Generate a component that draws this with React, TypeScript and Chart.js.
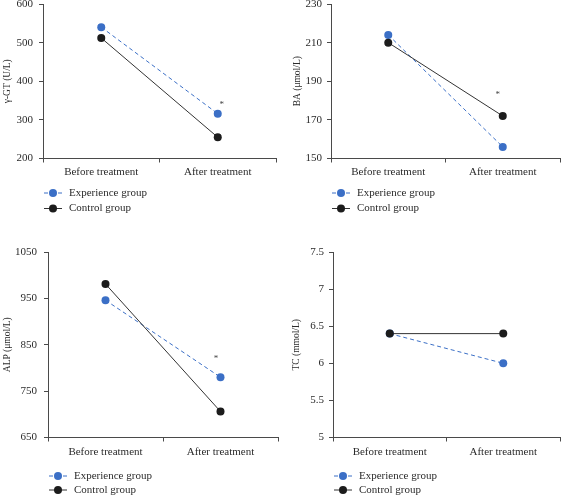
import React, { useEffect, useRef } from 'react';
import { Chart, registerables } from 'chart.js';

Chart.register(...registerables);

// ---------- data ----------
const CATEGORIES = ['Before treatment', 'After treatment'];
const SERIES_NAMES = ['Experience group', 'Control group'];

const GGT_EXP = [540, 316];
const GGT_CTRL = [512, 255];
const BA_EXP = [214, 156];
const BA_CTRL = [210, 172];
const ALP_EXP = [946, 780];
const ALP_CTRL = [981, 706];
const TC_EXP = [6.4, 6.0];
const TC_CTRL = [6.4, 6.4];

const GGT_TICKS = [200, 300, 400, 500, 600];
const BA_TICKS = [150, 170, 190, 210, 230];
const ALP_TICKS = [650, 750, 850, 950, 1050];
const TC_TICKS = [5, 5.5, 6, 6.5, 7, 7.5];

// significance marks: category index and value
const GGT_STAR_INDEX = [1];
const GGT_STAR_VALUE = [343];
const BA_STAR_INDEX = [1];
const BA_STAR_VALUE = [184];
const ALP_STAR_INDEX = [1];
const ALP_STAR_VALUE = [824];
const TC_STAR_INDEX: number[] = [];
const TC_STAR_VALUE: number[] = [];

const TITLES = ['γ-GT (U/L)', 'BA (μmol/L)', 'ALP (μmol/L)', 'TC (mmol/L)'];

// ---------- styles ----------
const FONT = '"Liberation Serif", "DejaVu Serif", serif';
const BLUE = '#3b6fc6';
const CTRL_LINE = '#333333';
const CTRL_POINT = '#1c1c1c';
const AXIS = '#4a4a4a';
const TEXT = '#2b2b2b';

const starPlugin = {
  id: 'stars',
  afterDatasetsDraw(chart: any, _args: any, opts: any) {
    if (!opts || !opts.values || !opts.values.length) return;
    const { ctx, scales } = chart;
    ctx.save();
    ctx.font = `${opts.size}px ${FONT}`;
    ctx.fillStyle = opts.color;
    ctx.textAlign = 'center';
    ctx.textBaseline = 'middle';
    opts.values.forEach((v: number, i: number) => {
      const x = scales.x.getPixelForValue(opts.index[i]) + opts.dx;
      const y = scales.y.getPixelForValue(v) + opts.dy;
      ctx.fillText('*', x, y);
    });
    ctx.restore();
  },
};

const stackLegendPlugin = {
  id: 'stackLegend',
  afterDraw(chart: any, _args: any, opts: any) {
    const { ctx, chartArea } = chart;
    ctx.save();
    chart.data.datasets.forEach((ds: any, i: number) => {
      const y = chartArea.bottom + opts.rows[i];
      const x0 = chartArea.left + opts.x0;
      const x1 = x0 + opts.lineLen;
      ctx.strokeStyle = ds.borderColor;
      ctx.lineWidth = ds.borderWidth;
      ctx.setLineDash(ds.borderDash || []);
      ctx.beginPath();
      ctx.moveTo(x0, y);
      ctx.lineTo(x1, y);
      ctx.stroke();
      ctx.setLineDash([]);
      ctx.fillStyle = ds.pointBackgroundColor;
      ctx.beginPath();
      ctx.arc((x0 + x1) / 2, y, opts.radius, 0, Math.PI * 2);
      ctx.fill();
      ctx.fillStyle = opts.color;
      ctx.font = `${opts.size}px ${FONT}`;
      ctx.textAlign = 'left';
      ctx.textBaseline = 'middle';
      ctx.fillText(ds.label, chartArea.left + opts.textX, y);
    });
    ctx.restore();
  },
};

type PanelCfg = {
  title: string;
  exp: number[];
  ctrl: number[];
  ticks: number[];
  starIndex: number[];
  starValue: number[];
  starDx: number;
  left: number;
  top: number;
  padL: number;
  padR: number;
  padT: number;
  padB: number;
  yWidth: number;
  yTickPad: number;
  xTickPad: number;
  legendRows: number[];
};

function Panel({ cfg }: { cfg: PanelCfg }) {
  const ref = useRef<HTMLCanvasElement>(null);
  useEffect(() => {
    if (!ref.current) return;
    const chart = new Chart(ref.current, {
      type: 'line',
      data: {
        labels: CATEGORIES,
        datasets: [
          {
            label: SERIES_NAMES[0],
            data: cfg.exp,
            borderColor: BLUE,
            backgroundColor: BLUE,
            pointBackgroundColor: BLUE,
            pointBorderColor: BLUE,
            pointBorderWidth: 0,
            pointRadius: 4,
            borderWidth: 1,
            borderDash: [4, 3],
            tension: 0,
            fill: false,
            order: 1,
          },
          {
            label: SERIES_NAMES[1],
            data: cfg.ctrl,
            borderColor: CTRL_LINE,
            backgroundColor: CTRL_POINT,
            pointBackgroundColor: CTRL_POINT,
            pointBorderColor: CTRL_POINT,
            pointBorderWidth: 0,
            pointRadius: 4,
            borderWidth: 1,
            tension: 0,
            fill: false,
            order: 0,
          },
        ],
      },
      options: {
        responsive: false,
        animation: false,
        events: [],
        layout: { padding: { left: cfg.padL, right: cfg.padR, top: cfg.padT, bottom: cfg.padB } },
        plugins: {
          legend: { display: false },
          tooltip: { enabled: false },
          stars: {
            values: cfg.starValue,
            index: cfg.starIndex,
            dx: cfg.starDx,
            dy: 1.5,
            size: 9,
            color: '#444444',
          },
          stackLegend: {
            rows: cfg.legendRows,
            x0: 1,
            lineLen: 18,
            textX: 26,
            radius: 4,
            size: 11,
            color: TEXT,
          },
        } as any,
        scales: {
          x: {
            type: 'category',
            offset: true,
            grid: { drawOnChartArea: false, drawTicks: true, tickLength: 4, color: AXIS, offset: true },
            border: { display: true, color: AXIS, width: 1 },
            ticks: { font: { family: FONT, size: 11 }, color: TEXT, padding: cfg.xTickPad, maxRotation: 0 },
            afterFit: (s: any) => {
              s.height = 20;
              s.paddingLeft = 0;
              s.paddingRight = 0;
            },
          },
          y: {
            type: 'linear',
            min: cfg.ticks[0],
            max: cfg.ticks[cfg.ticks.length - 1],
            grid: { drawOnChartArea: false, drawTicks: true, tickLength: 4, color: AXIS },
            border: { display: true, color: AXIS, width: 1 },
            ticks: {
              font: { family: FONT, size: 11 },
              color: TEXT,
              padding: cfg.yTickPad,
              callback: (v: any) => String(v),
            },
            afterBuildTicks: (s: any) => {
              s.ticks = cfg.ticks.map((v) => ({ value: v }));
            },
            afterFit: (s: any) => {
              s.width = cfg.yWidth;
              s.paddingTop = 0;
              s.paddingBottom = 0;
            },
            title: {
              display: true,
              text: cfg.title,
              font: { family: FONT, size: 9.5 },
              color: TEXT,
              padding: { top: 1.3, bottom: 0 },
            },
          },
        },
      },
      plugins: [starPlugin, stackLegendPlugin],
    } as any);
    return () => chart.destroy();
  }, []);
  return (
    <canvas
      ref={ref}
      width={282}
      height={248}
      style={{ position: 'absolute', left: cfg.left, top: cfg.top, width: 282, height: 248, display: 'block' }}
    />
  );
}

const PANELS: PanelCfg[] = [
  {
    title: TITLES[0], exp: GGT_EXP, ctrl: GGT_CTRL, ticks: GGT_TICKS,
    starIndex: GGT_STAR_INDEX, starValue: GGT_STAR_VALUE, starDx: 4,
    left: 0, top: 0, padL: 0, padR: 6, padT: 4, padB: 69.5, yWidth: 43, yTickPad: 6, xTickPad: 3,
    legendRows: [34.5, 50],
  },
  {
    title: TITLES[1], exp: BA_EXP, ctrl: BA_CTRL, ticks: BA_TICKS,
    starIndex: BA_STAR_INDEX, starValue: BA_STAR_VALUE, starDx: -5,
    left: 282, top: 0, padL: 8, padR: 4, padT: 4, padB: 69.5, yWidth: 41, yTickPad: 5, xTickPad: 3,
    legendRows: [34.5, 50],
  },
  {
    title: TITLES[2], exp: ALP_EXP, ctrl: ALP_CTRL, ticks: ALP_TICKS,
    starIndex: ALP_STAR_INDEX, starValue: ALP_STAR_VALUE, starDx: -4.5,
    left: 0, top: 248, padL: 0, padR: 4, padT: 1.7, padB: 38.5, yWidth: 48, yTickPad: 7, xTickPad: 4,
    legendRows: [38.5, 52.5],
  },
  {
    title: TITLES[3], exp: TC_EXP, ctrl: TC_CTRL, ticks: TC_TICKS,
    starIndex: TC_STAR_INDEX, starValue: TC_STAR_VALUE, starDx: 0,
    left: 282, top: 248, padL: 7, padR: 2, padT: 1.7, padB: 38.5, yWidth: 44, yTickPad: 5, xTickPad: 4,
    legendRows: [38.5, 52.5],
  },
];

export default function App() {
  return (
    <div style={{ position: 'absolute', left: 0, top: 0, width: 564, height: 496, background: '#ffffff', overflow: 'hidden' }}>
      {PANELS.map((p, i) => (
        <Panel key={i} cfg={p} />
      ))}
    </div>
  );
}
